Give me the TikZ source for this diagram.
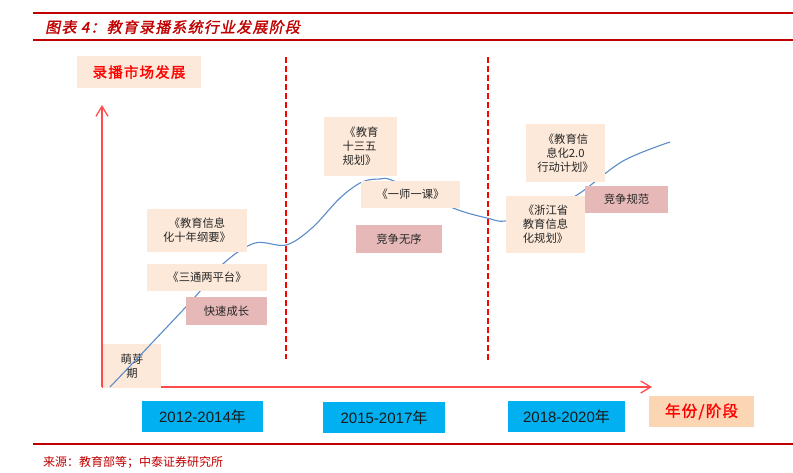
\documentclass[tikz,border=0pt]{standalone}
\usepackage{fontspec}
\setmainfont{Noto Sans CJK SC}
\newfontfamily\cjk{Noto Sans CJK SC}
\newfontfamily\cjkb[FakeBold=1.5,LetterSpace=8]{Noto Sans CJK SC}
\newfontfamily\cjkbi[FakeBold=1.5,FakeSlant=0.2,LetterSpace=8]{Noto Sans CJK SC}
\newfontfamily\lib{Liberation Sans}
\usetikzlibrary{arrows.meta}
\definecolor{titlered}{HTML}{C00000}
\definecolor{peach}{HTML}{FDE9D9}
\definecolor{peachdark}{HTML}{FCD5B4}
\definecolor{rose}{HTML}{E6B9B8}
\definecolor{sky}{HTML}{00B0F0}
\definecolor{curveblue}{HTML}{5B8BC9}
\definecolor{axisred}{HTML}{FF4B4B}
\begin{document}
\begin{tikzpicture}[x=1pt,y=-1pt,
  pbox/.style={fill=peach, inner sep=0pt, align=center, text=black!85,
    font=\fontsize{11.3}{14}\selectfont\cjk},
  rbox/.style={fill=rose, inner sep=0pt, align=center, text=black!85,
    font=\fontsize{11.3}{14}\selectfont\cjk},
  ybox/.style={fill=sky, inner sep=0pt, text=black!90,
    font=\fontsize{15}{17}\selectfont\lib},
  hbox/.style={inner sep=0pt, text=red, font=\fontsize{14.5}{16}\selectfont\cjkb},
  axis/.style={axisred, line width=1.3pt, -{Straight Barb[length=10pt,width=12pt]}},
  divider/.style={red, line width=2.4pt, dash pattern=on 6pt off 3pt},
  rule/.style={titlered},
  growth/.style={curveblue, line width=1.1pt}
]
\useasboundingbox (0,0) rectangle (793,472);

% header and footer rules
\coordinate (t1) at (33,13); \coordinate (t2) at (793,13);
\coordinate (m1) at (33,40); \coordinate (m2) at (793,40);
\coordinate (b1) at (33,444); \coordinate (b2) at (793,444);
\draw[rule, line width=2.2pt] (t1) -- (t2);
\draw[rule, line width=1.1pt] (m1) -- (m2);
\draw[rule, line width=1.3pt] (b1) -- (b2);

\node[anchor=west, inner sep=0pt, text=titlered, font=\fontsize{15}{16}\selectfont\cjkbi] (title) at (45,27) {图表 4：教育录播系统行业发展阶段};
\node[anchor=west, inner sep=0pt, text=titlered, font=\fontsize{12}{14}\selectfont\cjk] (source) at (43,462) {来源：教育部等；中泰证券研究所};

% axes
\coordinate (O) at (102,387);
\coordinate (ytop) at (102,105);
\coordinate (xend) at (652,387);
\draw[axis] (O) -- (ytop);
\draw[axis] (O) -- (xend);

\node[hbox, fill=peach, minimum width=124pt, minimum height=32pt] (ylab) at (139,72) {录播市场发展};
\node[hbox, fill=peachdark, minimum width=105pt, minimum height=31pt, font=\fontsize{15.5}{17}\selectfont\cjkb] (xlab) at (701.5,411.5) {年份/阶段};

% sprout box (curve drawn over it)
\node[pbox, minimum width=58pt, minimum height=44pt] (sprout) at (132,366) {萌芽\\期};

% growth curve
\draw[growth] plot[smooth, tension=0.55] coordinates {
 (110,387) (150,345) (195,297) (224,263) (255,243) (286,245)
 (312,228) (340,198) (362,182) (380,179) (394,181) (453,208) (487,218)
 (505,221) (540,212) (577,195) (623,161) (670,142)};

% dividers
\coordinate (d1t) at (286,57); \coordinate (d1b) at (286,359);
\coordinate (d2t) at (488,57); \coordinate (d2b) at (488,360);
\draw[divider] (d1t) -- (d1b);
\draw[divider] (d2t) -- (d2b);

% policy boxes
\node[pbox, minimum width=100pt, minimum height=43pt] (plan10) at (197,230.5) {《教育信息\\化十年纲要》};
\node[pbox, minimum width=120pt, minimum height=27pt] (santong) at (207,277) {《三通两平台》};
\node[rbox, minimum width=81pt, minimum height=28pt] (fast) at (226.5,311) {快速成长};

\node[pbox, minimum width=73pt, minimum height=59pt, align=left] (plan13) at (360.5,146.5) {\,《教育\\十三五\\规划》};
\node[pbox, minimum width=99pt, minimum height=27pt] (yishi) at (410.5,194.5) {《一师一课》};
\node[rbox, minimum width=86pt, minimum height=28pt] (disorder) at (399,239) {竞争无序};

\node[pbox, minimum width=79pt, minimum height=58pt] (plan20) at (565.5,153) {《教育信\\息化2.0\\行动计划》};
\node[pbox, minimum width=79pt, minimum height=57pt] (zj) at (545.5,224.5) {《浙江省\\教育信息\\化规划》};
\node[rbox, minimum width=83pt, minimum height=27pt] (norm) at (626.5,199.5) {竞争规范};

% year boxes
\node[ybox, minimum width=121pt, minimum height=31pt] (y1) at (202.5,416.5) {2012-2014{\cjk 年}};
\node[ybox, minimum width=122pt, minimum height=31pt] (y2) at (384,417.5) {2015-2017{\cjk 年}};
\node[ybox, minimum width=117pt, minimum height=31pt] (y3) at (566.5,416.5) {2018-2020{\cjk 年}};
\end{tikzpicture}
\end{document}
